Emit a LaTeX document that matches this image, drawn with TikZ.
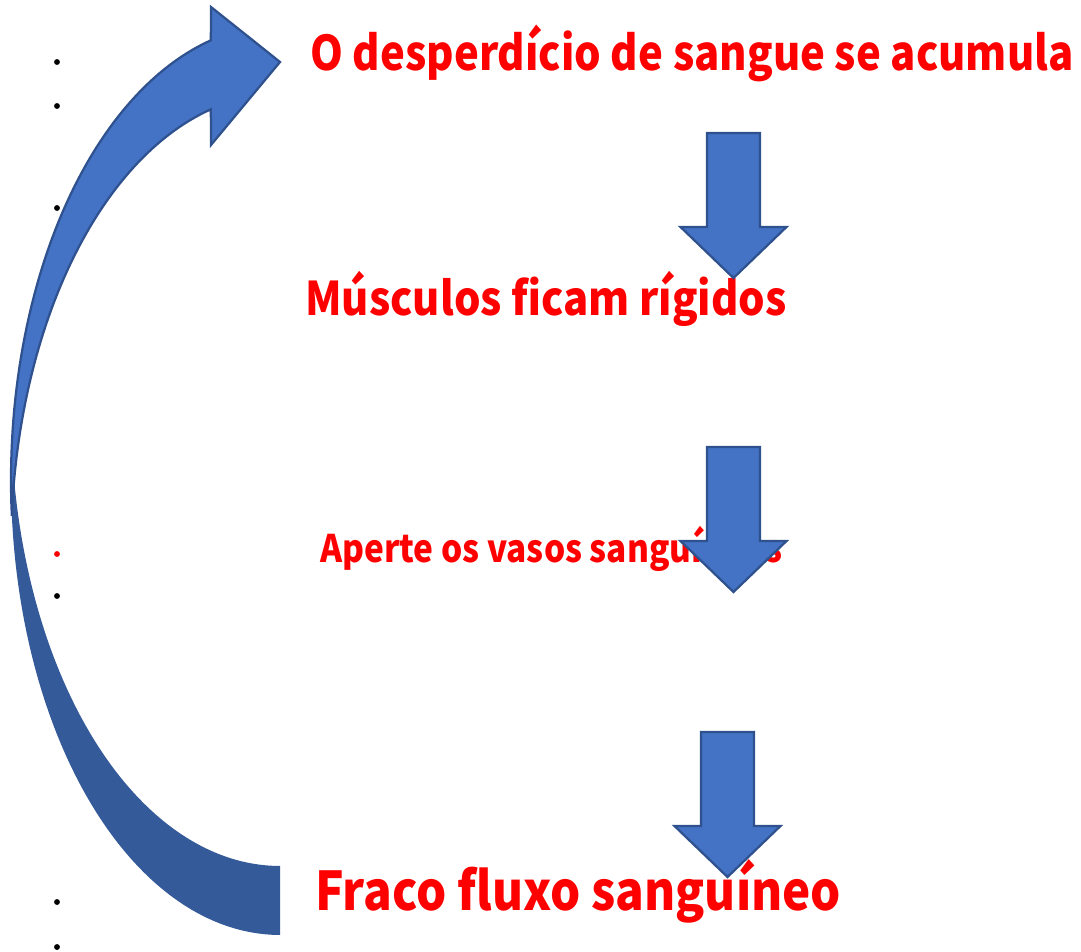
\documentclass[tikz,border=0pt]{standalone}
\usepackage{fontspec}
\newfontfamily\gothic{Noto Sans CJK JP}
\usetikzlibrary{positioning}
\definecolor{arrfill}{HTML}{4472C4}
\definecolor{arrline}{HTML}{2F528F}
\definecolor{arrback}{RGB}{52,90,153}
\tikzset{
	every node/.style={inner sep=0pt},
	steptext/.style={text=red, font=\gothic\bfseries, anchor=base west},
	blockarrow/.style={fill=arrfill, draw=arrline, line width=1.6pt, line join=miter},
	downarr/.pic={\draw[blockarrow] (-26.5,0) -- (26.5,0) -- (26.5,94) -- (53,94) -- (0,145) -- (-53,94) -- (-26.5,94) -- cycle;}
}

\begin{document}
\begin{tikzpicture}[x=0.025cm, y=-0.025cm]
\useasboundingbox (0,0) rectangle (1081,952);
\node (waste) [steptext, font=\gothic\bfseries\fontsize{34}{40}\selectfont] at (310,71) {\scalebox{0.875}[1]{O desperdício de sangue se acumula}};
\node (rigid) [steptext, font=\gothic\bfseries\fontsize{33}{40}\selectfont] at (305,316) {\scalebox{0.9}[1]{Músculos ficam rígidos}};
\node (squeeze) [steptext, font=\gothic\bfseries\fontsize{27}{32}\selectfont] at (320,562) {\scalebox{0.88}[1]{Aperte os vasos sanguíneos}};
\node (weakflow) [steptext, font=\gothic\bfseries\fontsize{38}{44}\selectfont] at (315,910) {\scalebox{0.89}[1]{Fraco fluxo sanguíneo}};
\pic (arrA) at (733.5,133) {downarr};
\pic (arrB) at (733.5,447) {downarr};
\pic (arrC) at (727.5,732) {downarr};
% curved arrow, back part then front part
\fill[arrback] plot[domain=90:184.4, samples=60, variable=\t] ({280+269*cos(\t)},{480+455*sin(\t)})
	-- plot[domain=175.7:90, samples=60, variable=\t] ({280+269*cos(\t)},{411+455*sin(\t)}) -- cycle;
\draw[blockarrow] plot[domain=175.6:255.1, samples=60, variable=\t] ({280+269*cos(\t)},{480+455*sin(\t)})
	-- (211,7) -- (280,62) -- (211,145)
	-- plot[domain=255.1:184.3, samples=60, variable=\t] ({280+269*cos(\t)},{549+455*sin(\t)}) -- cycle;
% bullets
\foreach \yy in {62,106,208,596,902,947}
	\fill (57,\yy) circle[radius=2.1pt];
\fill[red] (57,554) circle[radius=2.1pt];
\end{tikzpicture}
\end{document}
